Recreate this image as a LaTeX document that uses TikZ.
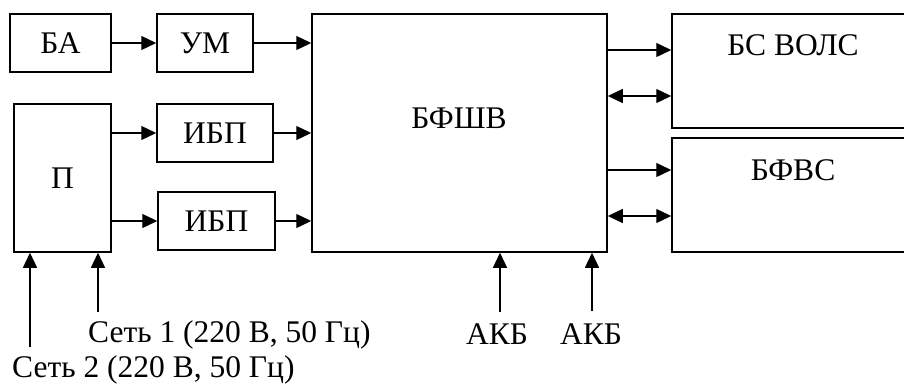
\documentclass[tikz,border=0pt]{standalone}
\usepackage{fontspec}
\setmainfont{Liberation Serif}
\usetikzlibrary{arrows.meta,positioning,calc}

\tikzset{
  blk/.style={draw, line width=1.5pt, inner sep=0pt, anchor=center},
  arr/.style={line width=1.3pt, -{Triangle[length=15pt,width=14pt]}},
  darr/.style={line width=1.3pt, {Triangle[length=15pt,width=14pt]}-{Triangle[length=15pt,width=14pt]}},
  lbl/.style={inner sep=0pt, font=\fontsize{31.5}{36}\selectfont}
}

\begin{document}
\begin{tikzpicture}[x=1pt,y=-1pt]
			\useasboundingbox (0,0) rectangle (904,383);
			
			% Blocks
			\node[blk, minimum width=101pt, minimum height=58pt, lbl] (ba) at (60.5,43) {БА};
			\node[blk, minimum width=96pt, minimum height=58pt, lbl] (um) at (205,43) {УМ};
			\node[blk, minimum width=97pt, minimum height=148pt, lbl] (p) at (62.5,178) {П};
			\node[blk, minimum width=116pt, minimum height=58pt, lbl] (ibpa) at (215,133) {ИБП};
			\node[blk, minimum width=117pt, minimum height=58pt, lbl] (ibpb) at (216.5,221) {ИБП};
			\node[blk, minimum width=295pt, minimum height=238pt] (bfshv) at (459.5,133) {};
			\node[lbl] (bfshvtxt) at (459,118) {БФШВ};
			\node[blk, minimum width=236pt, minimum height=114pt] (bsvols) at (790,71) {};
			\node[lbl] (bsvolstxt) at (793,45) {БС ВОЛС};
			\node[blk, minimum width=236pt, minimum height=114pt] (bfvs) at (790,195) {};
			\node[lbl] (bfvstxt) at (793,170) {БФВС};
			
			% Inputs
			\node[lbl] (akba) at (497,334) {АКБ};
			\node[lbl] (akbb) at (591,334) {АКБ};
			\node[lbl, anchor=west] (set1) at (88,335) {Сеть 1 (220 В, 50 Гц)};
			\node[lbl, anchor=west] (set2) at (12,370) {Сеть 2 (220 В, 50 Гц)};
			\coordinate (n1) at (98,312);
			\coordinate (n2) at (30,347);
			\coordinate (a1) at (500,312);
			\coordinate (a2) at (592,311);
			
			% Connections
			\draw[arr] (ba) -- (um);
			\draw[arr] (um.east) -- (um.east -| bfshv.west);
			\draw[arr] (p.east |- ibpa.west) -- (ibpa.west);
			\draw[arr] (p.east |- ibpb.west) -- (ibpb.west);
			\draw[arr] (ibpa.east) -- (ibpa.east -| bfshv.west);
			\draw[arr] (ibpb.east) -- (ibpb.east -| bfshv.west);
			\draw[arr] ([yshift=21pt]bfshv.east |- bsvols.west) -- ([yshift=21pt]bsvols.west);
			\draw[darr] ([yshift=-25pt]bfshv.east |- bsvols.west) -- ([yshift=-25pt]bsvols.west);
			\draw[arr] ([yshift=25pt]bfshv.east |- bfvs.west) -- ([yshift=25pt]bfvs.west);
			\draw[darr] ([yshift=-21pt]bfshv.east |- bfvs.west) -- ([yshift=-21pt]bfvs.west);
			\draw[arr] (a1) -- (a1 |- bfshv.south);
			\draw[arr] (a2) -- (a2 |- bfshv.south);
			\draw[arr] (n1) -- (n1 |- p.south);
			\draw[arr] (n2) -- (n2 |- p.south);
		\end{tikzpicture}
\end{document}
